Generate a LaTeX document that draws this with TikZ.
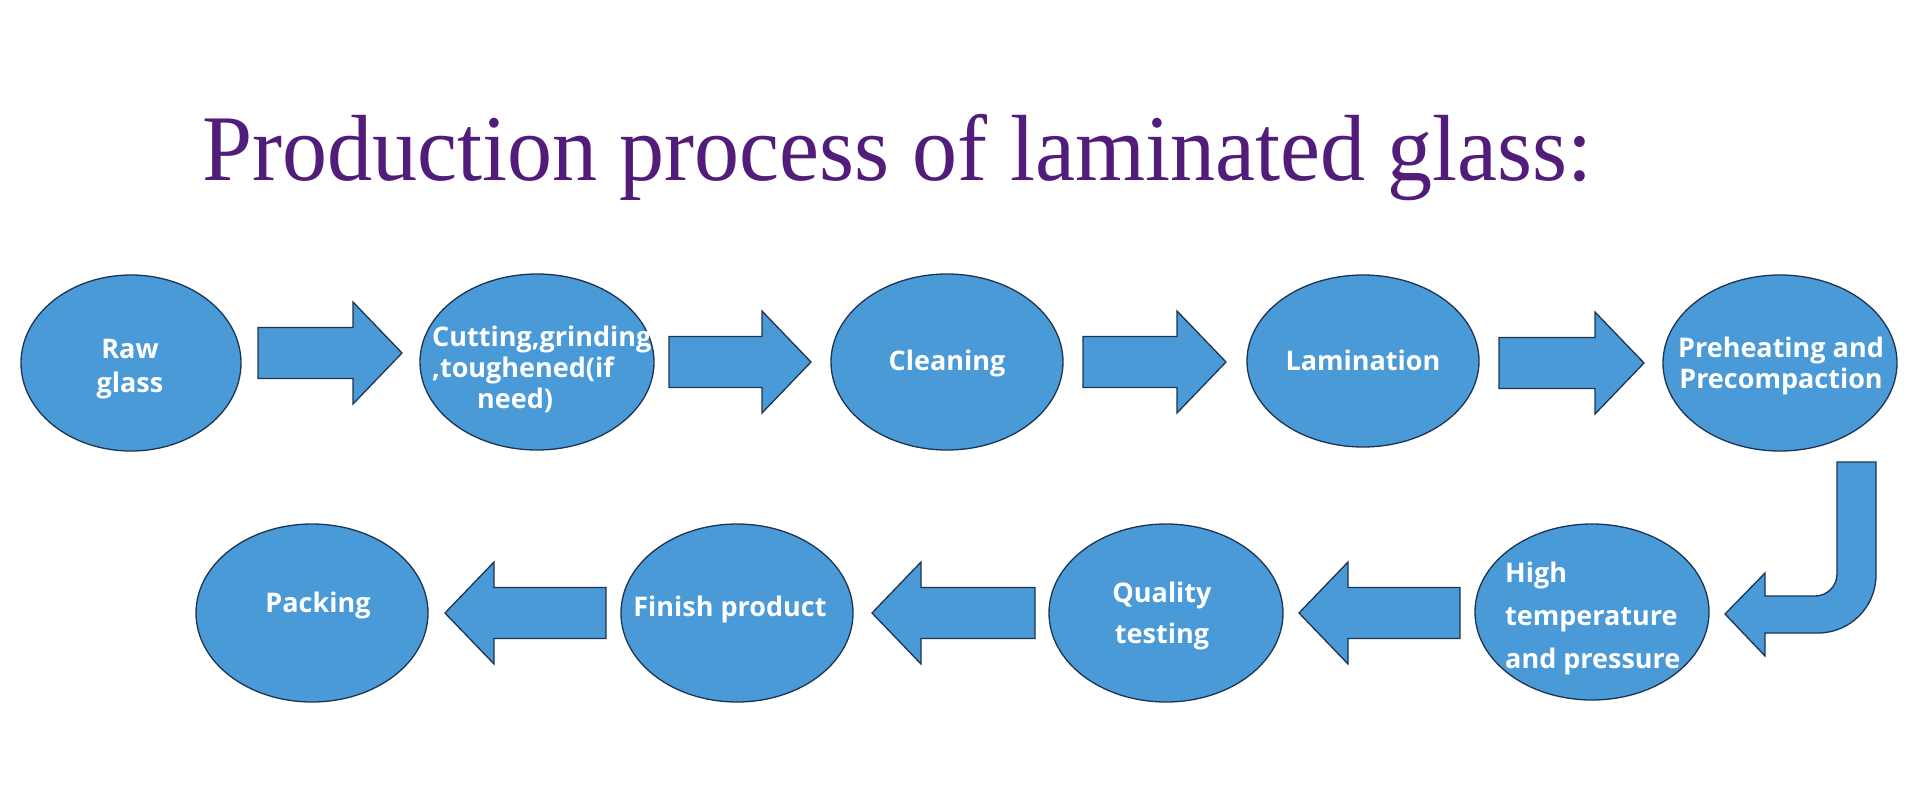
\documentclass[tikz,border=0pt]{standalone}
\usepackage{fontspec}
\setmainfont{Liberation Serif}
\newfontfamily\lblfont{Open Sans}
\usetikzlibrary{shapes.geometric}
\definecolor{stagefill}{RGB}{74,154,216}
\definecolor{stageline}{RGB}{28,52,82}
\definecolor{titlecol}{RGB}{82,28,122}
\tikzset{
  stage/.style={ellipse, draw=stageline, fill=stagefill, line width=1.3pt, inner sep=0pt},
  lbl/.style={text=white, font=\lblfont\bfseries\fontsize{27}{34}\selectfont, inner sep=0pt},
  blockarrow/.style={draw=stageline, fill=stagefill, line width=1.3pt, line join=miter},
}
% right-pointing block arrow: tail x, tip x, centre y
\newcommand{\blockright}[3]{%
  \draw[blockarrow] (#1,#3+25.5) -- (#2-49,#3+25.5) -- (#2-49,#3+51) -- (#2,#3)
    -- (#2-49,#3-51) -- (#2-49,#3-25.5) -- (#1,#3-25.5) -- cycle;}
% left-pointing block arrow: tip x, tail x, centre y
\newcommand{\blockleft}[3]{%
  \draw[blockarrow] (#2,#3+25.5) -- (#1+49,#3+25.5) -- (#1+49,#3+51) -- (#1,#3)
    -- (#1+49,#3-51) -- (#1+49,#3-25.5) -- (#2,#3-25.5) -- cycle;}
\begin{document}
\begin{tikzpicture}[x=1pt,y=1pt]
\fill[white] (0,0) rectangle (1920,-809);
\useasboundingbox (0,0) rectangle (1920,-809);

% title
\node[anchor=base west, inner sep=0pt, text=titlecol, font=\fontsize{94}{100}\selectfont,
      transform shape, xscale=0.958] (title) at (202,-180) {Production process of laminated glass:};

% stages, top row
\node[stage, minimum width=220pt, minimum height=176pt] (raw)   at (131,-363)  {};
\node[stage, minimum width=234pt, minimum height=176pt] (cut)   at (537,-362)  {};
\node[stage, minimum width=232pt, minimum height=176pt] (clean) at (947,-362)  {};
\node[stage, minimum width=232pt, minimum height=172pt] (lam)   at (1363,-361) {};
\node[stage, minimum width=234pt, minimum height=176pt] (pre)   at (1780,-363) {};
% stages, bottom row
\node[stage, minimum width=232pt, minimum height=178pt] (pack)  at (312,-613)  {};
\node[stage, minimum width=232pt, minimum height=178pt] (fin)   at (737,-613)  {};
\node[stage, minimum width=234pt, minimum height=178pt] (qual)  at (1166,-613) {};
\node[stage, minimum width=234pt, minimum height=176pt] (high)  at (1592,-612) {};

% labels
\node[lbl, align=center, anchor=base] (trw) at (130,-392) {Raw\\glass};
\node[lbl, align=left, anchor=base west, font=\lblfont\bfseries\fontsize{27}{31}\selectfont]
  (tcut) at (432,-408) {Cutting,grinding\\,toughened(if\\\hspace*{45pt}need)};
\node[lbl, anchor=base] (tclean) at (947,-370) {Cleaning};
\node[lbl, anchor=base] (tlam) at (1363,-370) {Lamination};
\node[lbl, align=center, anchor=base, font=\lblfont\bfseries\fontsize{27}{31}\selectfont]
  (tpre) at (1781,-388) {Preheating and\\Precompaction};
\node[lbl, anchor=base] (tpack) at (318,-612) {Packing};
\node[lbl, anchor=base] (tfin) at (730,-616) {Finish product};
\node[lbl, align=center, anchor=base, font=\lblfont\bfseries\fontsize{27}{41}\selectfont]
  (tqual) at (1162,-643) {Quality\\testing};
\node[lbl, align=left, anchor=base west, font=\lblfont\bfseries\fontsize{27}{43}\selectfont]
  (thigh) at (1505,-668) {High\\temperature\\and pressure};

% arrows, top row
\blockright{258}{402}{-353}
\blockright{669}{811}{-362}
\blockright{1083}{1226}{-362}
\blockright{1499}{1644}{-363}
% arrows, bottom row
\blockleft{445}{606}{-613}
\blockleft{872}{1035}{-613}
\blockleft{1299}{1460}{-613}

% bent arrow from Preheating down to High temperature
\draw[blockarrow] (1837,-462) -- (1876,-462) -- (1876,-575)
  arc[start angle=0, end angle=-90, radius=58pt] -- (1765,-633) -- (1765,-656)
  -- (1725,-614) -- (1765,-573) -- (1765,-596) -- (1815,-596)
  arc[start angle=-90, end angle=0, radius=22pt] -- cycle;
\end{tikzpicture}
\end{document}
